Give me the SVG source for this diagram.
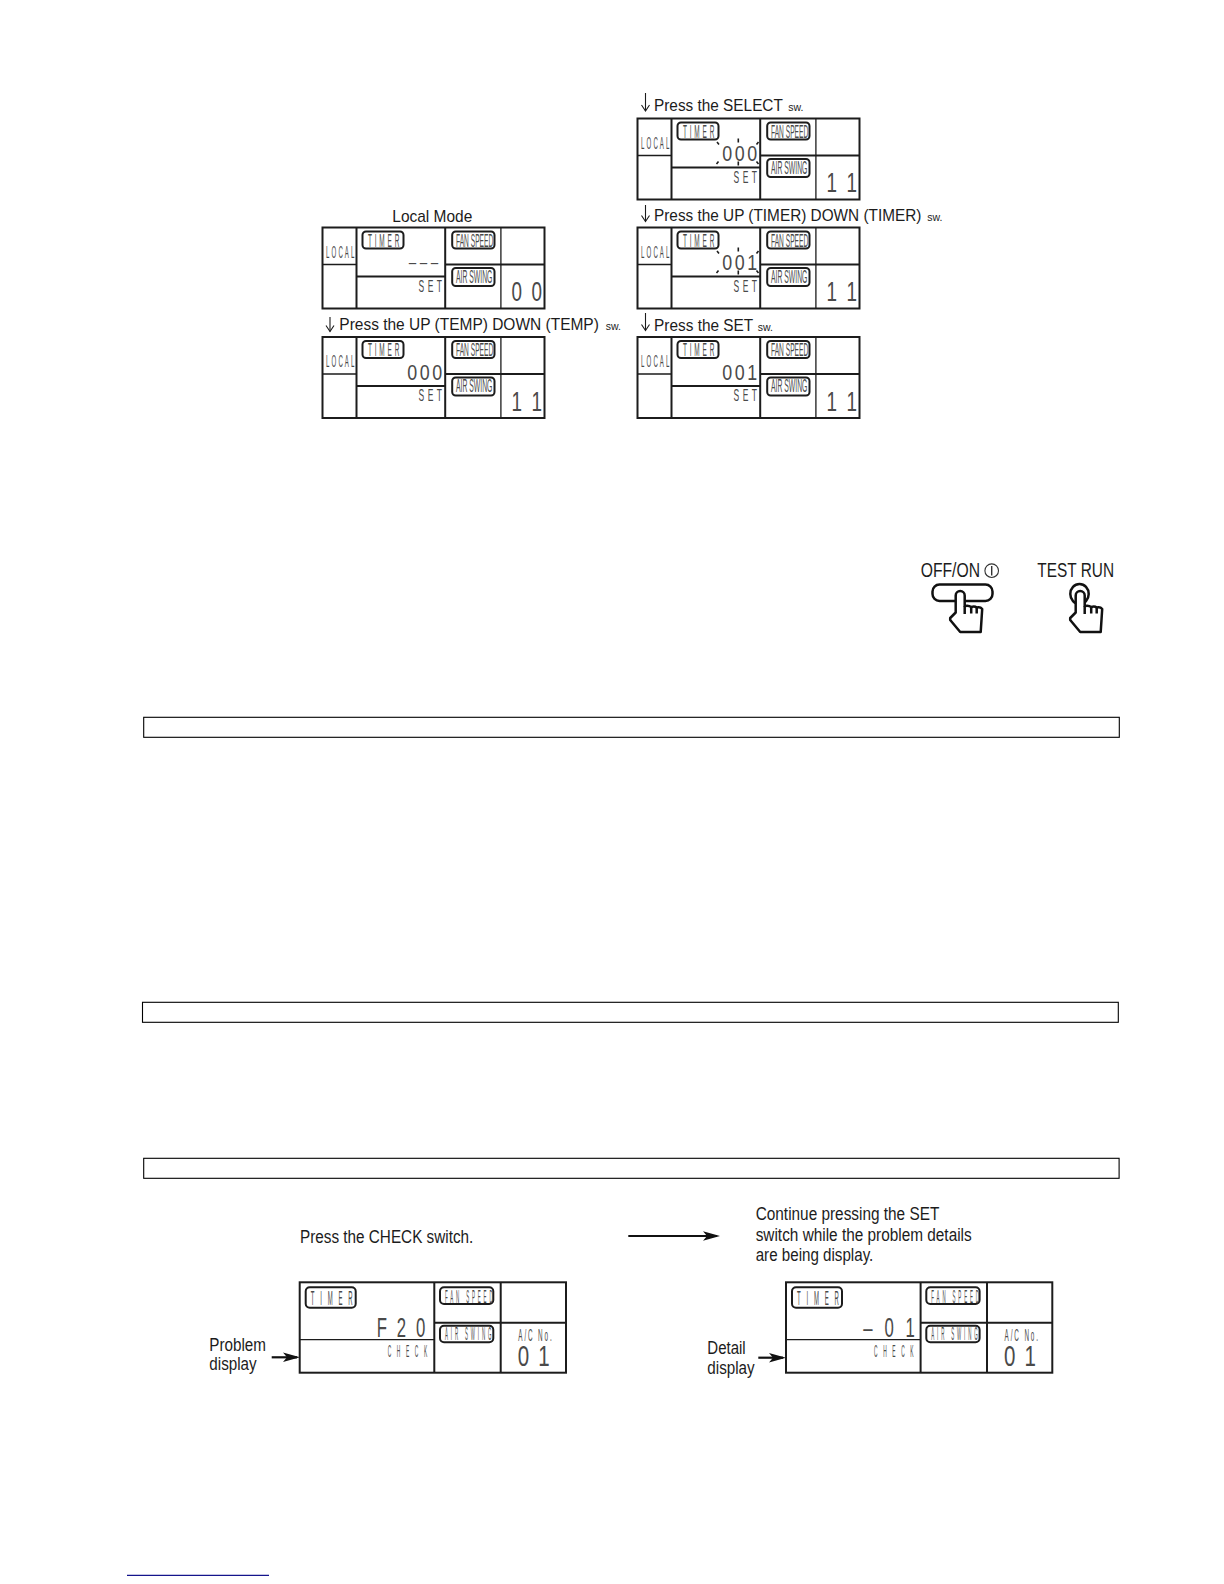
<svg xmlns="http://www.w3.org/2000/svg" xmlns:xlink="http://www.w3.org/1999/xlink" width="1224" height="1584" viewBox="0 0 1224 1584">
<style>
text{font-family:"Liberation Sans",Arial,sans-serif;fill:#1c1c1c}
.lb{font-size:17px}
.cap{font-size:17.5px}
.sw{font-size:10.5px}
.lcd{fill:#4a4a4a}
.local{font-size:16px;letter-spacing:5.5px}
.timer{font-size:18.5px;letter-spacing:8px}
.pill{font-size:17.5px}
.set{font-size:17px;letter-spacing:7px}
.big{font-size:27px;letter-spacing:3px}
.mid{font-size:22.3px;letter-spacing:3.2px}
.timer2{font-size:20px;letter-spacing:19.4px}
.pill2{font-size:17.7px;letter-spacing:11.4px}
.check{font-size:16.3px;letter-spacing:18.7px}
.acno{font-size:15.8px;letter-spacing:4.7px}
.big2{font-size:29.3px;letter-spacing:2.4px}
.fr{fill:none;stroke:#1c1c1c;stroke-width:2}
.th{fill:none;stroke:#1c1c1c;stroke-width:1.3}
.pl{fill:none;stroke:#1c1c1c;stroke-width:2}
.tick{fill:none;stroke:#1c1c1c;stroke-width:1.6}
.band{fill:#fff;stroke:#000;stroke-width:1.1}
.arrow{fill:none;stroke:#111;stroke-width:2.2;marker-end:url(#barb)}
.down{fill:none;stroke:#1c1c1c;stroke-width:1.1;marker-end:url(#open)}
.hand{fill:#fff;stroke:#111;stroke-width:2.5;stroke-linejoin:round}
</style>
<defs>
<marker id="barb" markerUnits="userSpaceOnUse" viewBox="-18 -6 19 12" refX="-3" refY="0" markerWidth="19" markerHeight="12" orient="auto"><path d="M-17 -4.8L0 0L-17 4.8L-13 0Z" fill="#111"/></marker>
<marker id="open" markerUnits="userSpaceOnUse" viewBox="-7 -6 8 12" refX="0" refY="0" markerWidth="8" markerHeight="12" orient="auto"><path d="M-6 -4L0 0L-6 4" fill="none" stroke="#1c1c1c" stroke-width="1.1"/></marker>
<g id="frame">
<rect class="fr" x="0" y="0" width="222" height="81"/>
<path class="fr" d="M34 0V81M122.7 0V81"/>
<path class="fr" d="M34 49H122.7M122.7 37H222"/>
<path class="th" d="M0 37H34M178.4 0V81"/>
<rect class="pl" x="40" y="4" width="41" height="17" rx="3.5"/>
<rect class="pl" x="129.7" y="4" width="42.3" height="17" rx="3.5"/>
<rect class="pl" x="129.7" y="40.5" width="42.3" height="18" rx="3.5"/>
</g>
<g id="frame2">
<rect class="fr" x="0" y="0" width="266.3" height="90.4"/>
<path class="th" d="M0 57.4H134.6"/>
<path class="fr" d="M134.6 0V90.4M201 0V90.4M134.6 40.4H266.3"/>
<rect class="pl" x="6" y="5" width="50" height="20.4" rx="4"/>
<rect class="pl" x="140.3" y="5" width="53.3" height="16.7" rx="4"/>
<rect class="pl" x="140.3" y="43.4" width="53.3" height="16.6" rx="4"/>
</g>
<path id="blink" class="tick" d="M79.5 23.5L81.5 26M100.8 20V24M121 23.5L119 26M81 43L79 45.5M100.8 43V47M119 43L121 45.5"/>
<g id="handshape">
<path class="hand" d="M0 4.5A4.5 4.5 0 0 1 9 4.5V15Q13 14 15.5 16Q19 15 21 16.5Q24.5 15.5 26.5 18L25 41H4.5L-5.5 29V27L0 21.5Z"/>
<path class="hand" d="M9 15V23M15.5 16V22.5M21 16.5V22.5"/>
</g>
</defs>
<rect width="1224" height="1584" fill="#fff"/>

<g id="connectors">
<path class="down" d="M330 317V331.5"/>
<path class="down" d="M645.5 93V111"/>
<path class="down" d="M645.5 205V221.5"/>
<path class="down" d="M645.5 313V330.5"/>
<path class="arrow" d="M628.3 1236H717"/>
<path class="arrow" d="M271.7 1357.3H297"/>
<path class="arrow" d="M758.3 1357.7H783"/>
</g>

<g id="step-labels">
<text class="lb" x="392.3" y="221.7" textLength="80" lengthAdjust="spacingAndGlyphs">Local Mode</text>
<text class="lb" transform="translate(339.3 330.3) scale(.912 1)">Press the UP (TEMP) DOWN (TEMP)</text>
<text class="sw" x="605.7" y="330.3">sw.</text>
<text class="lb" transform="translate(654 111) scale(.904 1)">Press the SELECT</text>
<text class="sw" x="788.3" y="111">sw.</text>
<text class="lb" transform="translate(654 221) scale(.903 1)">Press the UP (TIMER) DOWN (TIMER)</text>
<text class="sw" x="927.3" y="221">sw.</text>
<text class="lb" transform="translate(654 331) scale(.906 1)">Press the SET</text>
<text class="sw" x="757.7" y="331">sw.</text>
</g>

<g id="panel-local-00" transform="translate(322.5 227.5)">
<use href="#frame"/>
<text class="lcd local" transform="translate(3.6 30.4) scale(.38 1)">LOCAL</text>
<text class="lcd timer" transform="translate(45.5 19.2) scale(.35 1)">TIMER</text>
<text class="lcd pill" transform="translate(133.5 19) scale(.38 1)">FAN SPEED</text>
<text class="lcd pill" transform="translate(133.5 55) scale(.39 1)">AIR SWING</text>
<text class="lcd set" transform="translate(96 64.4) scale(.5 1)">SET</text>
<text class="lcd" font-size="30" letter-spacing="1" transform="translate(85 40.8) scale(1 .5)">---</text>
<text class="lcd big" transform="translate(189 73.5) scale(.7 1)">0 0</text>
</g>

<g id="panel-local-11" transform="translate(322.5 337)">
<use href="#frame"/>
<text class="lcd local" transform="translate(3.6 30.4) scale(.38 1)">LOCAL</text>
<text class="lcd timer" transform="translate(45.5 19.2) scale(.35 1)">TIMER</text>
<text class="lcd pill" transform="translate(133.5 19) scale(.38 1)">FAN SPEED</text>
<text class="lcd pill" transform="translate(133.5 55) scale(.39 1)">AIR SWING</text>
<text class="lcd set" transform="translate(96 64.4) scale(.5 1)">SET</text>
<text class="lcd mid" transform="translate(84.8 42.5) scale(.8 1)">000</text>
<text class="lcd big" transform="translate(189 73.5) scale(.7 1)">1 1</text>
</g>

<g id="panel-select" transform="translate(637.5 118.5)">
<use href="#frame"/>
<use href="#blink"/>
<text class="lcd local" transform="translate(3.6 30.4) scale(.38 1)">LOCAL</text>
<text class="lcd timer" transform="translate(45.5 19.2) scale(.35 1)">TIMER</text>
<text class="lcd pill" transform="translate(133.5 19) scale(.38 1)">FAN SPEED</text>
<text class="lcd pill" transform="translate(133.5 55) scale(.39 1)">AIR SWING</text>
<text class="lcd set" transform="translate(96 64.4) scale(.5 1)">SET</text>
<text class="lcd mid" transform="translate(84.8 42.5) scale(.8 1)">000</text>
<text class="lcd big" transform="translate(189 73.5) scale(.7 1)">1 1</text>
</g>

<g id="panel-updown" transform="translate(637.5 227.5)">
<use href="#frame"/>
<use href="#blink"/>
<text class="lcd local" transform="translate(3.6 30.4) scale(.38 1)">LOCAL</text>
<text class="lcd timer" transform="translate(45.5 19.2) scale(.35 1)">TIMER</text>
<text class="lcd pill" transform="translate(133.5 19) scale(.38 1)">FAN SPEED</text>
<text class="lcd pill" transform="translate(133.5 55) scale(.39 1)">AIR SWING</text>
<text class="lcd set" transform="translate(96 64.4) scale(.5 1)">SET</text>
<text class="lcd mid" transform="translate(84.8 42.5) scale(.8 1)">001</text>
<text class="lcd big" transform="translate(189 73.5) scale(.7 1)">1 1</text>
</g>

<g id="panel-set" transform="translate(637.5 337)">
<use href="#frame"/>
<text class="lcd local" transform="translate(3.6 30.4) scale(.38 1)">LOCAL</text>
<text class="lcd timer" transform="translate(45.5 19.2) scale(.35 1)">TIMER</text>
<text class="lcd pill" transform="translate(133.5 19) scale(.38 1)">FAN SPEED</text>
<text class="lcd pill" transform="translate(133.5 55) scale(.39 1)">AIR SWING</text>
<text class="lcd set" transform="translate(96 64.4) scale(.5 1)">SET</text>
<text class="lcd mid" transform="translate(84.8 42.5) scale(.8 1)">001</text>
<text class="lcd big" transform="translate(189 73.5) scale(.7 1)">1 1</text>
</g>

<g id="button-offon">
<text x="920.7" y="577.3" font-size="20" textLength="59.3" lengthAdjust="spacingAndGlyphs" fill="#333">OFF/ON</text>
<circle cx="991.7" cy="570.7" r="6.8" fill="none" stroke="#333" stroke-width="1.1"/>
<path d="M991.7 566V575.4" stroke="#333" stroke-width="1.4" fill="none"/>
<rect x="932.5" y="584.5" width="60" height="16.5" rx="7" fill="#fff" stroke="#111" stroke-width="2.5"/>
<use href="#handshape" x="955.7" y="591"/>
</g>

<g id="button-testrun">
<text x="1037.3" y="577.3" font-size="20" textLength="76.7" lengthAdjust="spacingAndGlyphs" fill="#333">TEST RUN</text>
<ellipse cx="1079.5" cy="594" rx="9.2" ry="10" fill="#fff" stroke="#111" stroke-width="2.5"/>
<use href="#handshape" x="1075.7" y="591"/>
</g>

<g id="section-bars">
<rect class="band" x="143.7" y="717.3" width="975.6" height="20"/>
<rect class="band" x="142.5" y="1002.3" width="975.8" height="20"/>
<rect class="band" x="143.7" y="1158.3" width="975.4" height="20"/>
</g>

<g id="caption-check">
<text class="cap" x="300" y="1243.3" textLength="173.3" lengthAdjust="spacingAndGlyphs">Press the CHECK switch.</text>
</g>
<g id="caption-set">
<text class="cap" x="755.7" y="1220" textLength="183.6" lengthAdjust="spacingAndGlyphs">Continue pressing the SET</text>
<text class="cap" x="755.7" y="1240.7" textLength="216" lengthAdjust="spacingAndGlyphs">switch while the problem details</text>
<text class="cap" x="755.7" y="1261" textLength="117.6" lengthAdjust="spacingAndGlyphs">are being display.</text>
</g>
<g id="label-problem">
<text class="cap" x="209.3" y="1350.7" textLength="56.7" lengthAdjust="spacingAndGlyphs">Problem</text>
<text class="cap" x="209.3" y="1370" textLength="47.4" lengthAdjust="spacingAndGlyphs">display</text>
</g>
<g id="label-detail">
<text class="cap" x="707.3" y="1354.3" textLength="38.4" lengthAdjust="spacingAndGlyphs">Detail</text>
<text class="cap" x="707.3" y="1374" textLength="47.4" lengthAdjust="spacingAndGlyphs">display</text>
</g>

<g id="panel-problem" transform="translate(299.7 1282.3)">
<use href="#frame2"/>
<text class="lcd timer2" transform="translate(11 22.7) scale(.3 1)">TIMER</text>
<text class="lcd pill2" transform="translate(145.3 20.4) scale(.25 1)">FAN SPEED</text>
<text class="lcd pill2" transform="translate(145.3 58) scale(.25 1)">AIR SWING</text>
<text class="lcd big" style="letter-spacing:4.2px" transform="translate(77 54.4) scale(.62 1)">F 2 0</text>
<text class="lcd check" transform="translate(88 74.4) scale(.3 1)">CHECK</text>
<text class="lcd acno" transform="translate(218.6 58.4) scale(.4 1)">A/C No.</text>
<text class="lcd big2" transform="translate(218 83.7) scale(.7 1)">0 1</text>
</g>

<g id="panel-detail" transform="translate(786 1282.3)">
<use href="#frame2"/>
<text class="lcd timer2" transform="translate(11 22.7) scale(.3 1)">TIMER</text>
<text class="lcd pill2" transform="translate(145.3 20.4) scale(.25 1)">FAN SPEED</text>
<text class="lcd pill2" transform="translate(145.3 58) scale(.25 1)">AIR SWING</text>
<text class="lcd big" style="letter-spacing:5.8px" transform="translate(77.3 54.4) scale(.62 1)">– 0 1</text>
<text class="lcd check" transform="translate(88 74.4) scale(.3 1)">CHECK</text>
<text class="lcd acno" transform="translate(218.6 58.4) scale(.4 1)">A/C No.</text>
<text class="lcd big2" transform="translate(218 83.7) scale(.7 1)">0 1</text>
</g>

<path id="footer-rule" d="M127 1575.3H269" fill="none" stroke="#14148c" stroke-width="1.3"/>
</svg>
